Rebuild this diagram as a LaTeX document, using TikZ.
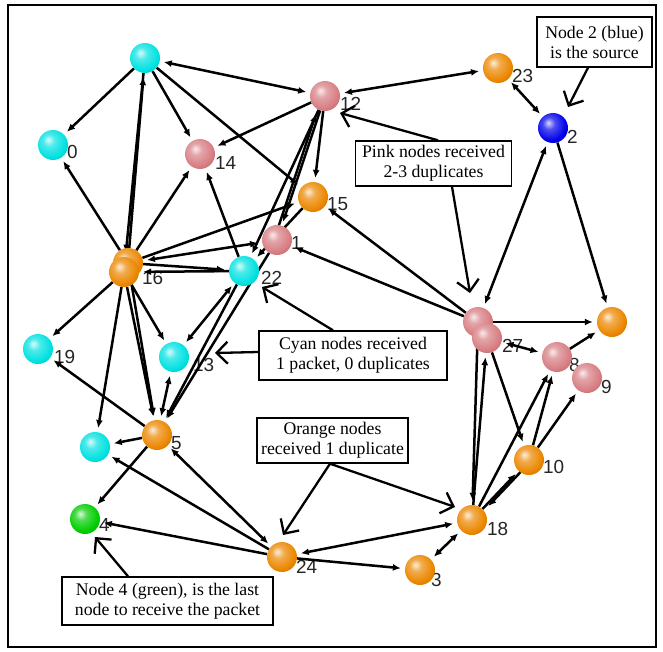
\documentclass[tikz,border=0pt]{standalone}
\usepackage{fontspec}
\setmainfont{Liberation Serif}
\setsansfont{Liberation Sans}
\usetikzlibrary{arrows.meta,calc,shadings}
\pgfdeclarelayer{bg}
\pgfdeclarelayer{lbl}
\pgfdeclarelayer{edges}
\pgfdeclarelayer{top}
\pgfsetlayers{bg,lbl,edges,main,top}
\definecolor{cyanb}{RGB}{0,225,225}
\definecolor{pinkb}{RGB}{215,125,130}
\definecolor{orangeb}{RGB}{235,135,0}
\definecolor{blueb}{RGB}{0,0,235}
\definecolor{greenb}{RGB}{0,205,0}
\colorlet{sphcol}{orangeb}
\pgfdeclareradialshading[sphcol]{sphere}{\pgfqpoint{-8bp}{9bp}}{%
  color(0bp)=(sphcol!15!white);
  color(10bp)=(sphcol!70!white);
  color(26bp)=(sphcol);
  color(44bp)=(sphcol!72!black);
  color(62bp)=(sphcol!50!black)}
\tikzset{
  ball/.style={circle, minimum size=30bp, inner sep=0pt,
    /utils/exec={\colorlet{sphcol}{#1}}, shading=sphere},
  lbl/.style={font=\fontsize{19}{19}\selectfont\sffamily, text=black!85, inner sep=0pt, anchor=west},
  ed/.style={line width=2.5bp, -{Latex[length=8bp,width=7bp]}, shorten >=4bp},
  eb/.style={line width=2.5bp, {Latex[length=8bp,width=7bp]}-{Latex[length=8bp,width=7bp]}, shorten >=4bp, shorten <=4bp},
  callout/.style={draw, line width=1.4bp, fill=white, align=center, inner sep=0pt, font=\fontsize{17.8}{20}\selectfont},
  carrow/.style={line width=2.3bp, -{Straight Barb[length=11bp,width=22bp]}},
}
\begin{document}
\begin{tikzpicture}[x=1bp,y=-1bp]
\useasboundingbox (0,0) rectangle (663,652);
\begin{pgfonlayer}{bg}
\fill[white] (0,0) rectangle (663,652);
\end{pgfonlayer}
\draw[line width=2.2bp] (8,5) rectangle (656,647);

% spheres
\node[ball=cyanb] (nT) at (145,58) {};
\node[ball=cyanb] (n0) at (53,145) {};
\node[ball=pinkb] (n14) at (200,154) {};
\node[ball=pinkb] (n12) at (325,96) {};
\node[ball=orangeb] (n23) at (498,68) {};
\node[ball=blueb] (n2) at (553,128) {};
\node[ball=orangeb] (n15) at (313,197) {};
\node[ball=pinkb] (n1) at (277,240) {};
\node[ball=cyanb] (n22) at (244,271) {};
\node[ball=orangeb] (n16a) at (128,263) {};
\node[ball=orangeb] (n16b) at (124,272) {};
\node[ball=cyanb] (n19) at (38,349) {};
\node[ball=cyanb] (n13) at (174,357) {};
\node[ball=orangeb] (n5) at (157,435) {};
\node[ball=cyanb] (n11) at (95,447) {};
\node[ball=greenb] (n4) at (85,519) {};
\node[ball=orangeb] (n24) at (282,557) {};
\node[ball=orangeb] (n3) at (420,570) {};
\node[ball=orangeb] (n18) at (472,520) {};
\node[ball=orangeb] (n10) at (529,460) {};
\node[ball=pinkb] (n27a) at (478,322) {};
\node[ball=pinkb] (n27b) at (487,338) {};
\node[ball=pinkb] (n8) at (557,357) {};
\node[ball=pinkb] (n9) at (587,378) {};
\node[ball=orangeb] (n7) at (612,322) {};

% labels
\begin{pgfonlayer}{lbl}
\node[lbl] (l0) at ($(n0)+(14,7)$) {0};
\node[lbl] (l14) at ($(n14)+(15,9)$) {14};
\node[lbl] (l12) at ($(n12)+(15,8)$) {12};
\node[lbl] (l23) at ($(n23)+(14,8)$) {23};
\node[lbl] (l2) at ($(n2)+(14,9)$) {2};
\node[lbl] (l15) at ($(n15)+(14,7)$) {15};
\node[lbl] (l1) at ($(n1)+(14,3)$) {1};
\node[lbl] (l22) at ($(n22)+(17,7)$) {22};
\node[lbl] (l16) at ($(n16b)+(18,6)$) {16};
\node[lbl] (l19) at ($(n19)+(16,8)$) {19};
\node[lbl] (l13) at ($(n13)+(19,8)$) {13};
\node[lbl] (l5) at ($(n5)+(14,8)$) {5};
\node[lbl] (l4) at ($(n4)+(14,6)$) {4};
\node[lbl] (l24) at ($(n24)+(14,10)$) {24};
\node[lbl] (l3) at ($(n3)+(11,10)$) {3};
\node[lbl] (l18) at ($(n18)+(15,9)$) {18};
\node[lbl] (l10) at ($(n10)+(14,7)$) {10};
\node[lbl] (l27) at ($(n27b)+(15,8)$) {27};
\node[lbl] (l9) at ($(n9)+(14,9)$) {9};
\node[lbl] (l8) at ($(n8)+(12,8)$) {8};
\end{pgfonlayer}

% edges
\begin{pgfonlayer}{edges}
\draw[ed] (nT) -- (n0);
\draw[eb] (nT) -- (n12);
\draw[ed] (nT) -- (n14);
\draw[ed] (nT) -- (n15);
\draw[ed] (n16a) -- (nT);
\draw[ed] (nT) -- (n16b);
\draw[ed] (n12) -- (n14);
\draw[ed] (n12) -- (n15);
\draw[eb] (n12) -- (n23);
\draw[eb] (n23) -- (n2);
\draw[eb] (n2) -- (n27a);
\draw[ed] (n2) -- (n7);
\draw[ed] (n12) -- (n1);
\draw[ed, transform canvas={xshift=-3bp}] (n1) -- (n12);
\draw[ed] (n12) -- (n22);
\draw[ed] (n15) -- (n22);
\draw[ed] (n22) -- (n14);
\draw[ed] (n16a) -- (n14);
\draw[ed] (n16a) -- (n0);
\draw[ed] (n16b) -- (n19);
\draw[ed] (n16b) -- (n13);
\draw[ed] (n16b) -- (n11);
\draw[ed] (n16a) -- (n15);
\draw[eb] (n16a) -- (n1);
\draw[ed] (n16a) -- (n22);
\draw[ed] (n22) -- (n16b);
\draw[ed] (n16a) -- (n5);
\draw[ed] (n16b) -- (n5);
\draw[eb] (n22) -- (n13);
\draw[ed] (n22) -- (n5);
\draw[ed] (n1) -- (n5);
\draw[eb] (n13) -- (n5);
\draw[ed] (n5) -- (n11);
\draw[ed] (n24) -- (n11);
\draw[ed] (n5) -- (n4);
\draw[ed] (n24) -- (n4);
\draw[eb] (n5) -- (n24);
\draw[ed] (n5) -- (n19);
\draw[eb] (n24) -- (n18);
\draw[ed] (n24) -- (n3);
\draw[eb] (n3) -- (n18);
\draw[ed] (n27a) -- (n18);
\draw[ed] (n18) -- (n27b);
\draw[ed] (n27b) -- (n10);
\draw[ed] (n18) -- (n8);
\draw[ed] (n10) -- (n8);
\draw[ed] (n10) -- (n9);
\draw[ed] (n18) -- (n10);
\draw[ed, transform canvas={xshift=3bp}] (n10) -- (n18);
\draw[ed] (n27a) -- (n7);
\draw[eb] (n27b) -- (n8);
\draw[ed] (n8) -- (n7);
\draw[ed] (n27a) -- (n1);
\draw[ed] (n27a) -- (n15);
\end{pgfonlayer}

% callouts
\begin{pgfonlayer}{top}
\node[callout, minimum width=115bp, minimum height=50bp] (cbBlue) at (594.5,42) {Node 2 (blue)\\is the source};
\node[callout, minimum width=156bp, minimum height=45bp] (cbPink) at (433.5,163.5) {Pink nodes received\\2-3 duplicates};
\node[callout, minimum width=188bp, minimum height=49bp] (cbCyan) at (353,355.5) {Cyan nodes received\\1 packet, 0 duplicates};
\node[callout, minimum width=151bp, minimum height=45bp] (cbOrange) at (332.5,440.5) {Orange nodes\\received 1 duplicate};
\node[callout, minimum width=211bp, minimum height=48bp] (cbGreen) at (167.5,601) {Node 4 (green), is the last\\node to receive the packet};

\coordinate (tBlue) at (568,107);
\coordinate (tPink1) at (340,113);
\coordinate (tPink2) at (470,293);
\coordinate (tCyan1) at (215,353);
\coordinate (tCyan2) at (262,287);
\coordinate (tOr1) at (283,535);
\coordinate (tOr2) at (455,507);
\coordinate (tGreen) at (95,537);

\draw[carrow] ([xshift=-6.5bp]cbBlue.south) -- (tBlue);
\draw[carrow] ([xshift=4.5bp]cbPink.north) -- (tPink1);
\draw[carrow] ([xshift=18.5bp]cbPink.south) -- (tPink2);
\draw[carrow] ([yshift=3.5bp]cbCyan.west) -- (tCyan1);
\draw[carrow] ([xshift=-20bp]cbCyan.north) -- (tCyan2);
\draw[carrow] ([xshift=-2.5bp]cbOrange.south) -- (tOr1);
\draw[carrow] ([xshift=-2.5bp]cbOrange.south) -- (tOr2);
\draw[carrow] ([xshift=-39.5bp]cbGreen.north) -- (tGreen);
\end{pgfonlayer}
\end{tikzpicture}
\end{document}
